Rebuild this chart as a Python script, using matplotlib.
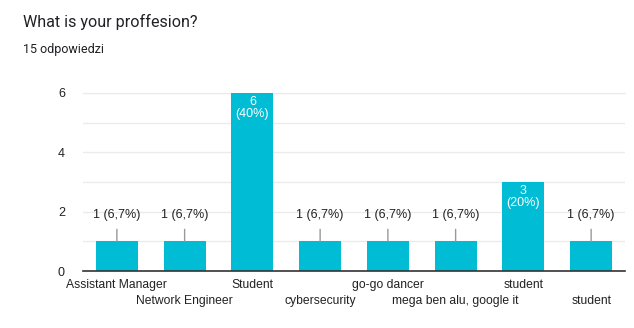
import matplotlib.pyplot as plt
from matplotlib.ticker import MultipleLocator

categories = ["Assistant Manager", "Network Engineer", "Student", "cybersecurity",
              "go-go dancer", "mega ben alu, google it", "student", "student"]
counts = [1, 1, 6, 1, 1, 1, 3, 1]
percents = ["6,7%", "6,7%", "40%", "6,7%", "6,7%", "6,7%", "20%", "6,7%"]
title = "What is your proffesion?"
subtitle = "15 odpowiedzi"

W, H = 634, 328
fig = plt.figure(figsize=(W / 100, H / 100), dpi=100)
fig.patch.set_facecolor("white")

ax = fig.add_axes([83 / W, 57 / H, 542 / W, 178 / H])
x = list(range(len(categories)))
bar_color = "#00bcd4"
ax.bar(x, counts, width=0.62, color=bar_color, zorder=3)

ax.set_xlim(-0.5, len(categories) - 0.5)
ax.set_ylim(0, 6)
ax.yaxis.set_major_locator(MultipleLocator(2))
ax.yaxis.set_minor_locator(MultipleLocator(1))
ax.grid(axis="y", which="both", color="#ebebeb", linewidth=1, zorder=0)
ax.set_axisbelow(True)
for s in ["left", "right"]:
    ax.spines[s].set_visible(False)
ax.spines["top"].set_color("#ebebeb")
ax.spines["bottom"].set_color("#333333")
ax.spines["bottom"].set_linewidth(1.2)
ax.spines["bottom"].set_zorder(4)

fam = ["Liberation Sans", "DejaVu Sans"]
tick_font = dict(family=fam, size=8.7, color="#222222")
ax.tick_params(axis="y", which="both", length=0, pad=13)
ax.tick_params(axis="x", length=0, pad=0)
for lab in ax.get_yticklabels():
    lab.set_fontfamily(fam)
    lab.set_fontsize(9)
    lab.set_color("#222222")
ax.set_xticks(x)
ax.set_xticklabels([])
for i, c in enumerate(categories):
    off = -8 if i % 2 == 0 else -24
    ax.annotate(c, xy=(i, 0), xytext=(0, off), textcoords="offset pixels",
                ha="center", va="top", **tick_font)

for i, (v, p) in enumerate(zip(counts, percents)):
    if v >= 3:
        ax.annotate(f"{v}\n({p})", xy=(i, v), xytext=(0, -3), textcoords="offset pixels",
                    ha="center", va="top", color="white", fontsize=9,
                    family=fam, linespacing=1.05, zorder=5)
    else:
        ax.annotate(f"{v} ({p})", xy=(i, v), xytext=(0, 20), textcoords="offset pixels",
                    ha="center", va="bottom", color="#222222", fontsize=9,
                    family=fam, zorder=5)
        ax.annotate("", xy=(i, v), xytext=(0, 12), textcoords="offset pixels",
                    xycoords="data",
                    arrowprops=dict(arrowstyle="-", color="#999999", lw=1,
                                    shrinkA=0, shrinkB=0), zorder=5)

fig.text(23 / W, 1 - 22 / H, title, ha="left", va="center", fontsize=11.6,
         family=["Roboto", "DejaVu Sans"], color="#202124")
fig.text(23 / W, 1 - 50 / H, subtitle, ha="left", va="center", fontsize=9,
         family=["Roboto", "DejaVu Sans"], color="#202124")

fig.savefig("out.png", dpi=100, facecolor="white")
